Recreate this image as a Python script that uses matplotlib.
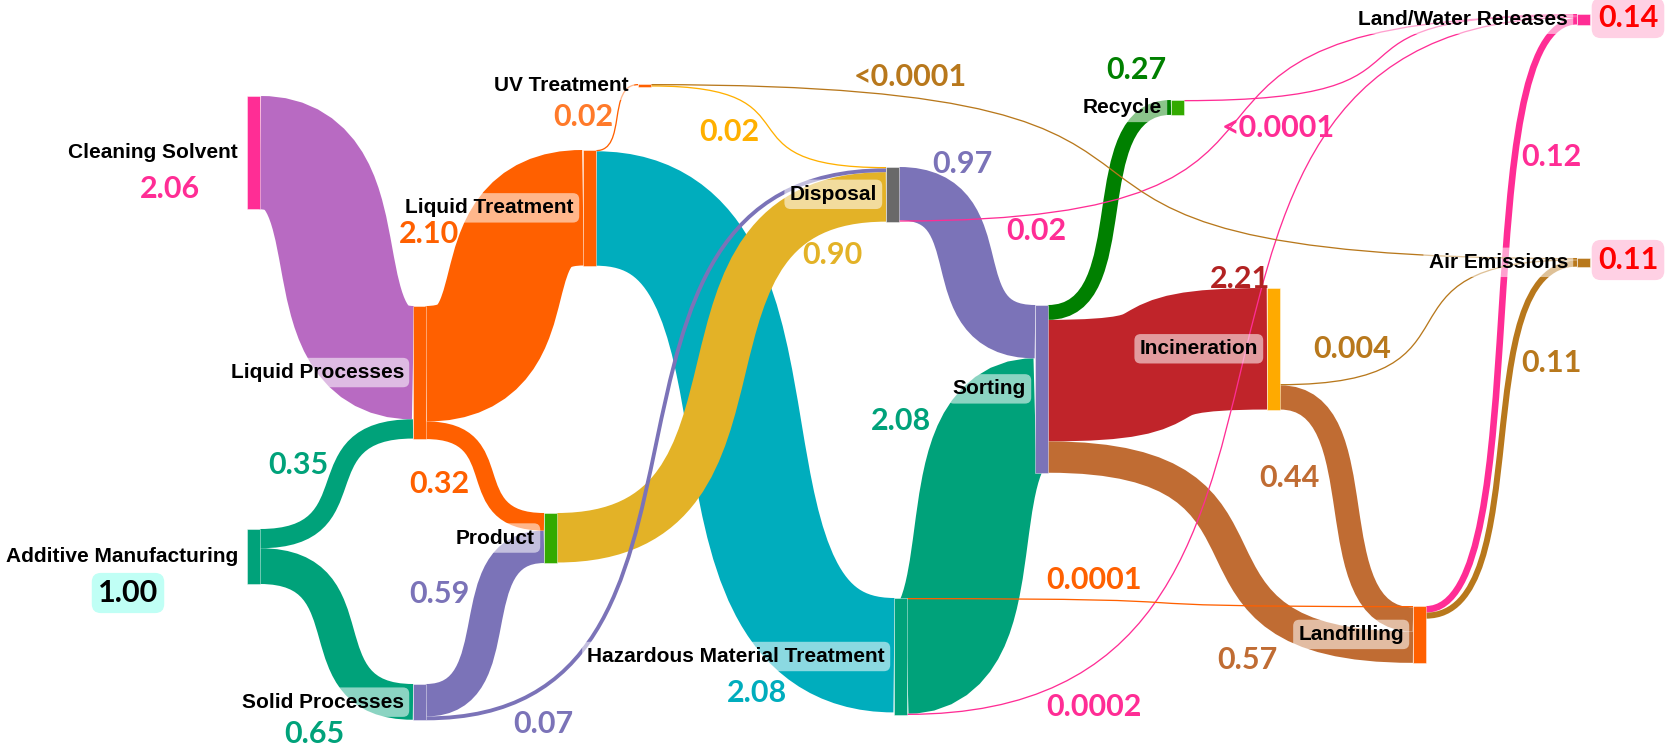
import matplotlib
matplotlib.use("Agg")
import matplotlib.pyplot as plt
from matplotlib.path import Path
from matplotlib.patches import PathPatch, Rectangle

# ---- data ----
node_names = ["Cleaning Solvent", "Additive Manufacturing", "Liquid Processes", "Solid Processes",
              "Liquid Treatment", "Product", "UV Treatment", "Hazardous Material Treatment",
              "Disposal", "Sorting", "Recycle", "Incineration", "Landfilling",
              "Land/Water Releases", "Air Emissions"]

link_src = ["Cleaning Solvent", "Additive Manufacturing", "Additive Manufacturing",
            "Liquid Processes", "Liquid Processes", "Liquid Treatment", "Liquid Treatment",
            "Solid Processes", "Solid Processes", "Product", "UV Treatment", "UV Treatment",
            "Disposal", "Disposal", "Hazardous Material Treatment", "Hazardous Material Treatment",
            "Hazardous Material Treatment", "Sorting", "Sorting", "Sorting", "Recycle",
            "Incineration", "Incineration", "Landfilling", "Landfilling"]
link_tgt = ["Liquid Processes", "Liquid Processes", "Solid Processes",
            "Liquid Treatment", "Product", "UV Treatment", "Hazardous Material Treatment",
            "Product", "Disposal", "Disposal", "Air Emissions", "Disposal",
            "Sorting", "Land/Water Releases", "Landfilling", "Sorting",
            "Land/Water Releases", "Recycle", "Incineration", "Landfilling", "Land/Water Releases",
            "Air Emissions", "Landfilling", "Land/Water Releases", "Air Emissions"]
link_val = [2.06, 0.35, 0.65, 2.10, 0.32, 0.02, 2.08, 0.59, 0.07, 0.90, 0.00005, 0.02,
            0.97, 0.02, 0.0001, 2.08, 0.0002, 0.27, 2.21, 0.57, 0.00005, 0.004, 0.44, 0.12, 0.11]
link_text = ["2.06", "0.35", "0.65", "2.10", "0.32", "0.02", "2.08", "0.59", "0.07", "0.90",
             "<0.0001", "0.02", "0.97", "0.02", "0.0001", "2.08", "0.0002", "0.27", "2.21",
             "0.57", "<0.0001", "0.004", "0.44", "0.12", "0.11"]
total_names = ["Additive Manufacturing", "Land/Water Releases", "Air Emissions"]
total_text = ["1.00", "0.14", "0.11"]

# ---- layout / style ----
node_x = {"Cleaning Solvent": 247, "Additive Manufacturing": 247, "Liquid Processes": 413,
          "Solid Processes": 413, "Liquid Treatment": 583, "Product": 544, "UV Treatment": 638,
          "Hazardous Material Treatment": 894, "Disposal": 886, "Sorting": 1035, "Recycle": 1171,
          "Incineration": 1267, "Landfilling": 1413, "Land/Water Releases": 1577, "Air Emissions": 1577}
node_y = {"Cleaning Solvent": 96, "Additive Manufacturing": 529, "Liquid Processes": 306,
          "Solid Processes": 684, "Liquid Treatment": 150, "Product": 513, "UV Treatment": 84,
          "Hazardous Material Treatment": 598, "Disposal": 167, "Sorting": 305, "Recycle": 100,
          "Incineration": 288, "Landfilling": 606, "Land/Water Releases": 14, "Air Emissions": 258}
node_col = {"Cleaning Solvent": "#FF2D95", "Additive Manufacturing": "#00A27A",
            "Liquid Processes": "#FF6000", "Solid Processes": "#7B73B8", "Liquid Treatment": "#FF6000",
            "Product": "#33AA00", "UV Treatment": "#FF6000", "Hazardous Material Treatment": "#00A27A",
            "Disposal": "#696969", "Sorting": "#7B73B8", "Recycle": "#33AA00", "Incineration": "#FFAA00",
            "Landfilling": "#FF6000", "Land/Water Releases": "#FF2D95", "Air Emissions": "#B8781C"}
out_bottom = ["Incineration"]
link_col = ["#B86AC2", "#00A27A", "#00A27A", "#FF6000", "#FF6000", "#FF6000", "#00ADBD",
            "#7B73B8", "#7B73B8", "#E3B227", "#B8781C", "#FFB000", "#7B73B8", "#FF2D95",
            "#FF6000", "#00A27A", "#FF2D95", "#008000", "#C0242A", "#C06C33", "#FF2D95",
            "#B8781C", "#C06C33", "#FF2D95", "#B8781C"]
# incoming stacking order per node (indices into links)
in_order = {"Disposal": [11, 8, 9], "Landfilling": [14, 22, 19],
            "Land/Water Releases": [20, 13, 16, 23], "Air Emissions": [10, 21, 24]}
text_pos = [(170, 189), (298, 465), (314, 734), (429, 234), (439, 484), (583, 117), (757, 693),
            (439, 594), (543, 724), (832, 255), (910, 77), (729, 132), (962, 164), (1036, 231),
            (1094, 580), (901, 421), (1094, 707), (1136, 70), (1240, 279), (1247, 660),
            (1278, 128), (1352, 349), (1289, 478), (1551, 157), (1551, 363)]
text_col = ["#FF2D95", "#00A27A", "#00A27A", "#FF6000", "#FF6000", "#FF7A2A", "#00ADBD",
            "#7B73B8", "#7B73B8", "#E3B227", "#B8781C", "#FFB000", "#7B73B8", "#FF2D95",
            "#FF6000", "#00A27A", "#FF2D95", "#008000", "#B22222", "#C06C33", "#FF2D95",
            "#B8781C", "#C06C33", "#FF2D95", "#B8781C"]
total_pos = [(128, 593), (1628, 18), (1628, 260)]
total_col = ["black", "#FF0000", "#FF0000"]
total_box = ["#C0FFF5", "#FFD0E4", "#FFD0E4"]

K = 55.0      # px per unit
NW = 13       # node width
MINW = 1.3
CURV = 0.75   # how far the control points reach across

W, H = 1668, 748
fig = plt.figure(figsize=(W / 100, H / 100), dpi=100)
ax = fig.add_axes([0, 0, 1, 1])
ax.set_xlim(0, W)
ax.set_ylim(H, 0)
ax.axis("off")

widths = [max(v * K, MINW) for v in link_val]

# node heights
node_h = {}
for n in node_names:
    tin = sum(w for w, t in zip(widths, link_tgt) if t == n)
    tout = sum(w for w, s in zip(widths, link_src) if s == n)
    node_h[n] = max(tin, tout)

# source/target offsets
src_y0 = {}
tgt_y0 = {}
for n in node_names:
    outs = [i for i, s in enumerate(link_src) if s == n]
    tout = sum(widths[i] for i in outs)
    y = node_y[n] + (node_h[n] - tout if n in out_bottom else 0)
    for i in outs:
        src_y0[i] = y
        y += widths[i]
    ins = in_order.get(n, [i for i, t in enumerate(link_tgt) if t == n])
    y = node_y[n]
    for i in ins:
        tgt_y0[i] = y
        y += widths[i]

# links as thick stroked centre-lines, biggest first
for i in sorted(range(len(link_val)), key=lambda j: -link_val[j]):
    x0 = node_x[link_src[i]] + NW
    x1 = node_x[link_tgt[i]]
    w = widths[i]
    a0 = src_y0[i] + w / 2
    a1 = tgt_y0[i] + w / 2
    dx = x1 - x0
    p = Path([(x0, a0), (x0 + CURV * dx, a0), (x1 - CURV * dx, a1), (x1, a1)],
             [Path.MOVETO, Path.CURVE4, Path.CURVE4, Path.CURVE4])
    ax.add_patch(PathPatch(p, fill=False, ec=link_col[i], lw=w * 0.72,
                           capstyle="butt", zorder=1))

# nodes
for n in node_names:
    ax.add_patch(Rectangle((node_x[n], node_y[n]), NW, max(node_h[n], 1.2),
                           fc=node_col[n], ec=(1, 1, 1, 0.5), lw=0.6, zorder=2))
    ax.text(node_x[n] - 9, node_y[n] + node_h[n] / 2, n, ha="right", va="center",
            fontsize=15, fontweight="bold",
            family=["Liberation Sans Narrow", "Liberation Sans", "DejaVu Sans"],
            bbox=dict(boxstyle="round,pad=0.25,rounding_size=0.3", fc="white", ec="none", alpha=0.55),
            zorder=3)

# value labels
for txt, (x, y), c in zip(link_text, text_pos, text_col):
    ax.text(x, y, txt, ha="center", va="center", fontsize=22, fontweight="bold",
            color=c, family=["Lato", "DejaVu Sans"], zorder=4)
for txt, (x, y), c, b in zip(total_text, total_pos, total_col, total_box):
    ax.text(x, y, txt, ha="center", va="center", fontsize=22, fontweight="bold",
            color=c, family=["Lato", "DejaVu Sans"], zorder=4,
            bbox=dict(boxstyle="round,pad=0.2,rounding_size=0.3", fc=b, ec="none"))

fig.savefig("out.png", dpi=100, facecolor="white")
